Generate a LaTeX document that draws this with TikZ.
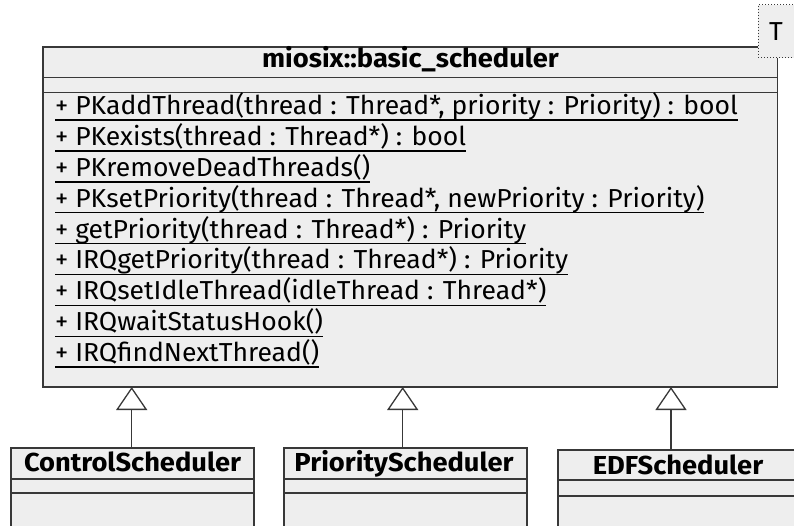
\documentclass[tikz,border=0pt]{standalone}
\usepackage{graphicx}
\usepackage{fontspec}
\setmainfont{Fira Sans}
\usetikzlibrary{arrows.meta}
\definecolor{boxfill}{RGB}{238,238,238}
\definecolor{boxline}{RGB}{56,56,56}
\newlength\reflen
\settowidth\reflen{\fontsize{26}{30}\selectfont + PKaddThread(thread : Thread*, priority : Priority) : bool}
\pgfmathsetmacro\sx{683/\reflen}
\newlength\reflenb
\settowidth\reflenb{\fontsize{26}{30}\selectfont\bfseries ControlScheduler}
\pgfmathsetmacro\sxb{217/\reflenb}
\newcommand\sq[1]{\scalebox{\sx}[1]{#1}}
\newcommand\sqb[1]{\scalebox{\sxb}[1]{#1}}
\tikzset{
  classbox/.style={draw=boxline, fill=boxfill, line width=1.5pt, inner sep=0pt, outer sep=0pt, anchor=north west},
  sepline/.style={draw=boxline, line width=1.5pt},
  mtext/.style={anchor=base west, inner sep=0pt, outer sep=0pt, font=\fontsize{26}{30}\selectfont},
  ttext/.style={anchor=base, inner sep=0pt, outer sep=0pt, font=\fontsize{26}{30}\selectfont\bfseries},
  uline/.style={draw=black, line width=1.5pt},
  inh/.style={draw=boxline, line width=1.3pt, -{Triangle[open, length=23pt, width=31pt, line width=1.3pt]}},
  tbox/.style={draw=boxline, fill=boxfill, line width=1pt, dash pattern=on 1pt off 2pt, inner sep=0pt, outer sep=0pt, font=\fontsize{26}{30}\selectfont}
}
\begin{document}
\begin{tikzpicture}[x=1pt, y=-1pt]
\useasboundingbox (0,0) rectangle (794,526);
\begin{scope}
\clip (0,0) rectangle (794,526);
% main class
\node[classbox, minimum width=734.7pt, minimum height=340pt] (main) at (43,47) {};
\draw[sepline] (main.west |- 0,77.5) -- (main.east |- 0,77.5);
\draw[sepline] (main.west |- 0,92.5) -- (main.east |- 0,92.5);
\node[ttext] (mtitle) at (410.5,67.5) {\sqb{miosix::basic\_scheduler}};
\foreach \t [count=\i from 0] in {
  {+ PKaddThread(thread : Thread*, priority : Priority) : bool},
  {+ PKexists(thread : Thread*) : bool},
  {+ PKremoveDeadThreads()},
  {+ PKsetPriority(thread : Thread*, newPriority : Priority)},
  {+ getPriority(thread : Thread*) : Priority},
  {+ IRQgetPriority(thread : Thread*) : Priority},
  {+ IRQsetIdleThread(idleThread : Thread*)},
  {+ IRQwaitStatusHook()},
  {+ IRQfindNextThread()}} {
  \node[mtext] (m\i) at (55,{114.5+30.9*\i}) {\sq{\t}};
  \draw[uline] ([yshift=-5.5pt]m\i.base west) -- ([yshift=-5.5pt]m\i.base east);
}
% template parameter box
\node[tbox, minimum width=36pt, minimum height=53pt] (tpl) at (776,31.5) {\sq{T}};
% subclasses
\node[classbox, minimum width=243pt, minimum height=100pt] (ctrl) at (11,448) {};
\draw[sepline] (ctrl.west |- 0,479) -- (ctrl.east |- 0,479);
\draw[sepline] (ctrl.west |- 0,493) -- (ctrl.east |- 0,493);
\node[ttext] (ctrlname) at (132.5,471.5) {\sqb{ControlScheduler}};
\node[classbox, minimum width=243pt, minimum height=100pt] (prio) at (284,448) {};
\draw[sepline] (prio.west |- 0,479) -- (prio.east |- 0,479);
\draw[sepline] (prio.west |- 0,493) -- (prio.east |- 0,493);
\node[ttext] (prioname) at (404,471.5) {\sqb{PriorityScheduler}};
\node[classbox, minimum width=240pt, minimum height=100pt] (edf) at (558,450) {};
\draw[sepline] (edf.west |- 0,480) -- (edf.east |- 0,480);
\draw[sepline] (edf.west |- 0,496) -- (edf.east |- 0,496);
\node[ttext] (edfname) at (678,474) {\sqb{EDFScheduler}};
% inheritance connectors
\coordinate (t1) at (131.7,387);
\coordinate (t2) at (402.7,387);
\coordinate (t3) at (671,387);
\draw[inh] (t1 |- ctrl.north) -- (t1);
\draw[inh] (t2 |- prio.north) -- (t2);
\draw[inh] (t3 |- edf.north) -- (t3);
\end{scope}
\end{tikzpicture}
\end{document}
